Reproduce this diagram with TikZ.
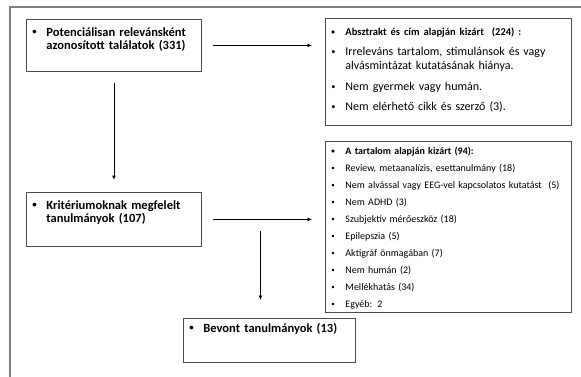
\documentclass[tikz,border=0pt]{standalone}
\usepackage{fontspec}
\setmainfont{Carlito}
\usetikzlibrary{positioning}
\usetikzlibrary{arrows.meta}

% bullet line with hanging indent
\newcommand{\bpoint}[1]{\hangindent=14pt\hangafter=1\noindent\makebox[14pt][l]{\raisebox{0.12em}{\scalebox{0.7}{\textbullet}}}#1\par}

\begin{document}
\begin{tikzpicture}[
    x=1pt, y=-1pt,
    flowbox/.style={draw=black!70, line width=0.9pt, anchor=north west, align=left, inner xsep=6pt, inner ysep=7pt, text height=10pt},
    flowarrow/.style={line width=0.9pt, -{Latex[length=4.5pt, width=4pt]}}
]
    \useasboundingbox (0,0) rectangle (581,377);
    % Frame
    \draw [black!50, line width=1.5pt] (581,7) -- (10,7) -- (10,377);

    % Search results
    % - [Box: found]
    \node at (26,19) [flowbox, text width=163pt, text depth=28pt, font=\fontsize{12.5}{13}\selectfont\bfseries] (found)
        {\bpoint{Potenciálisan relevánsként\newline azonosított találatok (331)}};
    % - [Box: excluded by abstract]
    \node at (325,18) [flowbox, text width=234pt, text depth=83pt, font=\fontsize{12}{14}\selectfont] (abstract)
        {\setlength{\parskip}{6.5pt}%
         {\fontsize{10.5}{14}\selectfont\bfseries\bpoint{Absztrakt és cím alapján kizárt\ \ (224) :}}
         \bpoint{Irreleváns tartalom, stimulánsok és vagy\newline alvásmintázat kutatásának hiánya.}
         \bpoint{Nem gyermek vagy humán.}
         \bpoint{Nem elérhető cikk és szerző (3).}};
    % -- Arrow to the right
    \draw [flowarrow, shorten <=11pt, shorten >=13pt] (found.east) -- (found.east -| abstract.west);

    % Eligible studies
    % - [Box: eligible]
    \node at (26,192) [flowbox, text width=163pt, text depth=30pt, font=\fontsize{12.5}{13}\selectfont\bfseries] (eligible)
        {\bpoint{Kritériumoknak megfelelt\newline tanulmányok (107)}};
    % -- Arrow down from the search results
    \draw [flowarrow, shorten <=11pt, shorten >=12pt] (found.south) -- (eligible.north);
    % - [Box: excluded by content]
    \node at (325,141) [flowbox, text width=234pt, text height=6pt, text depth=151pt, font=\fontsize{10}{17}\selectfont] (content)
        {{\bfseries\bpoint{A tartalom alapján kizárt (94):}}
         \bpoint{Review, metaanalízis, esettanulmány (18)}
         \bpoint{Nem alvással vagy EEG-vel kapcsolatos kutatást\ \ (5)}
         \bpoint{Nem ADHD (3)}
         \bpoint{Szubjektív mérőeszköz (18)}
         \bpoint{Epilepszia (5)}
         \bpoint{Aktigráf önmagában (7)}
         \bpoint{Nem humán (2)}
         \bpoint{Mellékhatás (34)}
         \bpoint{Egyéb: 2}};
    % -- Arrow to the right
    \draw [flowarrow, shorten <=11pt, shorten >=13pt] (eligible.east) -- (eligible.east -| content.west);

    % Included studies
    % - [Box: included]
    \node at (183,318) [flowbox, text width=160pt, text height=7pt, text depth=23pt, font=\fontsize{12.5}{13}\selectfont\bfseries] (included)
        {\bpoint{Bevont tanulmányok (13)}};
    % -- Arrow down
    \coordinate (split) at (260.5,231);
    \draw [flowarrow, shorten >=18pt] (split) -- (split |- included.north);
\end{tikzpicture}
\end{document}
